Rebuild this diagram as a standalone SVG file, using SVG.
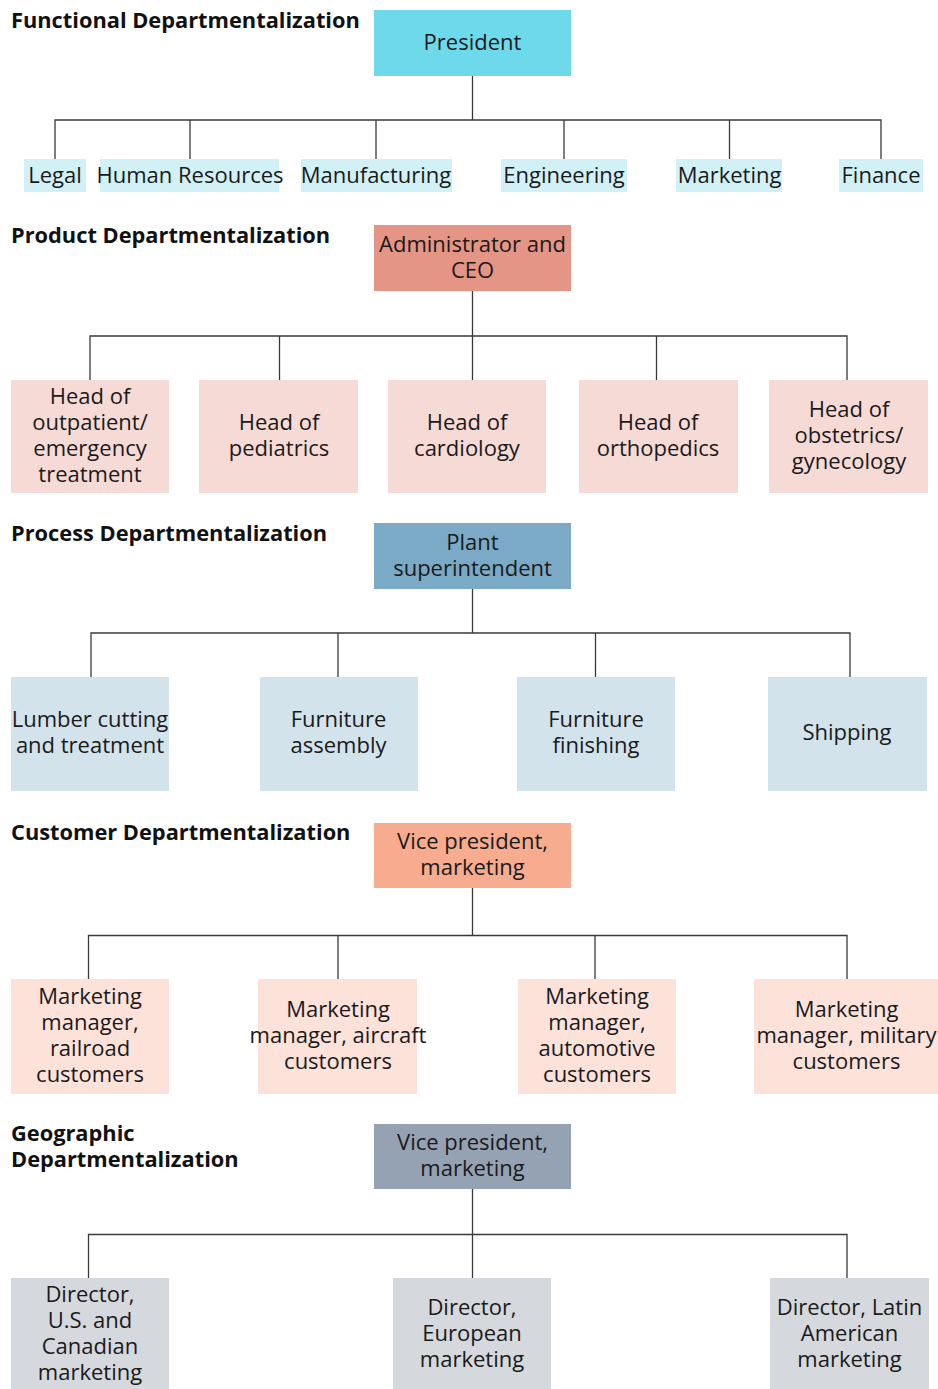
<svg xmlns="http://www.w3.org/2000/svg" width="938" height="1389" viewBox="0 0 938 1389">
<style>
.t{font-family:"Open Sans","Noto Sans","Liberation Sans",sans-serif;font-size:22px;fill:#1a1a1a;text-anchor:middle}
.h{font-family:"Open Sans","Noto Sans","Liberation Sans",sans-serif;font-size:21.8px;font-weight:bold;fill:#111}
.c{fill:none;stroke:#3a3a3a;stroke-width:1.3}
.f1{fill:#6dd9ea}.f1c{fill:#d1f1f7}
.f2{fill:#e59585}.f2c{fill:#f6dad6}
.f3{fill:#7aaac6}.f3c{fill:#d3e3ec}
.f4{fill:#f7ab8f}.f4c{fill:#fde2da}
.f5{fill:#95a2b3}.f5c{fill:#d5d8dc}
</style>
<rect width="938" height="1389" fill="#fff"/>
<g id="titles">
<text class="h" x="11" y="28">Functional Departmentalization</text>
<text class="h" x="11" y="243">Product Departmentalization</text>
<text class="h" x="11" y="541">Process Departmentalization</text>
<text class="h" x="11" y="840">Customer Departmentalization</text>
<text class="h" x="11" y="1141">Geographic</text>
<text class="h" x="11" y="1167">Departmentalization</text>
</g>
<g id="connectors">
<path class="c" d="M472.5 76V120M55 160V120H881V160M190 120V160M376 120V160M564 120V160M729.5 120V160"/>
<path class="c" d="M472.5 291V380M90 380V336H847V380M279.5 336V380M656.5 336V380"/>
<path class="c" d="M472.5 589V633M91 677V633H850V677M338 633V677M595.5 633V677"/>
<path class="c" d="M472.5 888V935.5M88.5 979V935.5H847V979M338 935.5V979M595 935.5V979"/>
<path class="c" d="M472.5 1189V1278M88.5 1278V1234.5H847V1278"/>
</g>
<g id="president"><rect class="f1" x="374" y="10" width="197" height="66"/><text class="t" x="472.5" y="50">President</text></g>
<g id="legal"><rect class="f1c" x="24" y="159" width="62" height="33"/><text class="t" x="55" y="182.5">Legal</text></g>
<g id="hr"><rect class="f1c" x="100" y="159" width="179" height="33"/><text class="t" x="190" y="182.5">Human Resources</text></g>
<g id="manufacturing"><rect class="f1c" x="301" y="159" width="151" height="33"/><text class="t" x="376" y="182.5">Manufacturing</text></g>
<g id="engineering"><rect class="f1c" x="501" y="159" width="126" height="33"/><text class="t" x="564" y="182.5">Engineering</text></g>
<g id="marketing"><rect class="f1c" x="676" y="159" width="106" height="33"/><text class="t" x="729.5" y="182.5">Marketing</text></g>
<g id="finance"><rect class="f1c" x="839" y="159" width="84" height="33"/><text class="t" x="881" y="182.5">Finance</text></g>

<g id="admin"><rect class="f2" x="374" y="225" width="197" height="66"/><text class="t" x="472.5" y="251.5">Administrator and</text><text class="t" x="472.5" y="277.5">CEO</text></g>
<g id="outpatient"><rect class="f2c" x="11" y="380" width="158" height="113"/><text class="t" x="90" y="404">Head of</text><text class="t" x="90" y="430">outpatient/</text><text class="t" x="90" y="456">emergency</text><text class="t" x="90" y="482">treatment</text></g>
<g id="pediatrics"><rect class="f2c" x="199" y="380" width="159" height="113"/><text class="t" x="279" y="430">Head of</text><text class="t" x="279" y="456">pediatrics</text></g>
<g id="cardiology"><rect class="f2c" x="388" y="380" width="158" height="113"/><text class="t" x="467" y="430">Head of</text><text class="t" x="467" y="456">cardiology</text></g>
<g id="orthopedics"><rect class="f2c" x="579" y="380" width="159" height="113"/><text class="t" x="658" y="430">Head of</text><text class="t" x="658" y="456">orthopedics</text></g>
<g id="obstetrics"><rect class="f2c" x="769" y="380" width="159" height="113"/><text class="t" x="849" y="417">Head of</text><text class="t" x="849" y="443">obstetrics/</text><text class="t" x="849" y="469">gynecology</text></g>

<g id="plant"><rect class="f3" x="374" y="523" width="197" height="66"/><text class="t" x="472.5" y="550">Plant</text><text class="t" x="472.5" y="576">superintendent</text></g>
<g id="lumber"><rect class="f3c" x="11" y="677" width="158" height="114"/><text class="t" x="90" y="727">Lumber cutting</text><text class="t" x="90" y="753">and treatment</text></g>
<g id="assembly"><rect class="f3c" x="260" y="677" width="158" height="114"/><text class="t" x="338.5" y="727">Furniture</text><text class="t" x="338.5" y="753">assembly</text></g>
<g id="finishing"><rect class="f3c" x="517" y="677" width="158" height="114"/><text class="t" x="596" y="727">Furniture</text><text class="t" x="596" y="753">finishing</text></g>
<g id="shipping"><rect class="f3c" x="768" y="677" width="159" height="114"/><text class="t" x="847" y="740">Shipping</text></g>

<g id="vp-customer"><rect class="f4" x="374" y="823" width="197" height="65"/><text class="t" x="472.5" y="849">Vice president,</text><text class="t" x="472.5" y="875">marketing</text></g>
<g id="railroad"><rect class="f4c" x="11" y="979" width="158" height="115"/><text class="t" x="90" y="1004">Marketing</text><text class="t" x="90" y="1030">manager,</text><text class="t" x="90" y="1056">railroad</text><text class="t" x="90" y="1082">customers</text></g>
<g id="aircraft"><rect class="f4c" x="258" y="979" width="159" height="115"/><text class="t" x="338" y="1017">Marketing</text><text class="t" x="338" y="1043">manager, aircraft</text><text class="t" x="338" y="1069">customers</text></g>
<g id="automotive"><rect class="f4c" x="518" y="979" width="158" height="115"/><text class="t" x="597" y="1004">Marketing</text><text class="t" x="597" y="1030">manager,</text><text class="t" x="597" y="1056">automotive</text><text class="t" x="597" y="1082">customers</text></g>
<g id="military"><rect class="f4c" x="754" y="979" width="184" height="115"/><text class="t" x="846.5" y="1017">Marketing</text><text class="t" x="846.5" y="1043">manager, military</text><text class="t" x="846.5" y="1069">customers</text></g>

<g id="vp-geo"><rect class="f5" x="374" y="1124" width="197" height="65"/><text class="t" x="472.5" y="1149.5">Vice president,</text><text class="t" x="472.5" y="1175.5">marketing</text></g>
<g id="us-canada"><rect class="f5c" x="11" y="1278" width="158" height="113"/><text class="t" x="90" y="1302">Director,</text><text class="t" x="90" y="1328">U.S. and</text><text class="t" x="90" y="1354">Canadian</text><text class="t" x="90" y="1380">marketing</text></g>
<g id="european"><rect class="f5c" x="393" y="1278" width="158" height="113"/><text class="t" x="472" y="1315">Director,</text><text class="t" x="472" y="1341">European</text><text class="t" x="472" y="1367">marketing</text></g>
<g id="latin"><rect class="f5c" x="770" y="1278" width="159" height="113"/><text class="t" x="849.5" y="1315">Director, Latin</text><text class="t" x="849.5" y="1341">American</text><text class="t" x="849.5" y="1367">marketing</text></g>
</svg>
